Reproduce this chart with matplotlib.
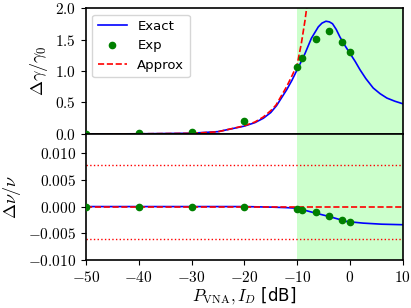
import matplotlib
matplotlib.use('Agg')
import matplotlib.pyplot as plt
from matplotlib.ticker import FuncFormatter

plt.rcParams['mathtext.fontset'] = 'cm'

# measured points (power in dB)
exp_x = [-50, -40, -30, -20, -10, -9, -6.5, -4, -1.5, 0]
exp_gamma = [0.0, 0.01, 0.03, 0.20, 1.06, 1.20, 1.51, 1.63, 1.46, 1.30]
exp_nu = [0.0, 0.0, 0.0, 0.0, -0.0005, -0.0006, -0.0011, -0.0017, -0.0025, -0.0029]

# exact model, linewidth
exact_x = [-50, -40, -30, -25, -20, -18, -16.4, -15, -13.9, -12, -11, -10, -9,
           -8.5, -7.3, -6, -5.3, -4.55, -3.9, -3.3, -2.6, -1.9, -1, 0, 1, 1.9,
           3, 4.4, 5.7, 7, 8.5, 10]
exact_gamma = [0.0, 0.003, 0.012, 0.037, 0.125, 0.18, 0.25, 0.34, 0.45, 0.70,
               0.85, 1.02, 1.19, 1.28, 1.52, 1.70, 1.76, 1.79, 1.78, 1.75,
               1.66, 1.54, 1.41, 1.28, 1.15, 1.02, 0.88, 0.73, 0.64, 0.57,
               0.52, 0.48]

# exact model, frequency shift
exact_nu_x = [-50, -20, -15, -12, -10, -7, -3.8, -0.6, 2.5, 6, 10]
exact_nu = [0.0, 0.0, -0.0001, -0.0002, -0.0003, -0.0011, -0.0019, -0.0028,
            -0.0031, -0.0033, -0.0034]

# approximation
approx_x = [-50, -40, -30, -25, -20, -18, -16.4, -15, -14, -12, -11, -10,
            -9.2, -8.5, -8.2, -8.0]
approx_gamma = [0.0, 0.003, 0.01, 0.035, 0.13, 0.19, 0.27, 0.37, 0.46, 0.75,
                0.92, 1.10, 1.44, 1.81, 2.0, 2.3]
approx_nu_x = [-50, 10]
approx_nu = [0.0, 0.0]

# dotted bounds in the lower panel
bounds_nu = [0.0077, -0.0061]
shade = (-10, 10)

fig, (ax1, ax2) = plt.subplots(2, 1, sharex=True, figsize=(4.11, 3.08), dpi=100)
fig.subplots_adjust(left=0.209, right=0.98, top=0.974, bottom=0.156, hspace=0)

for ax in (ax1, ax2):
    ax.axvspan(*shade, color='lime', alpha=0.2, lw=0)
    for s in ax.spines.values():
        s.set_linewidth(1.2)

ax1.plot(exact_x, exact_gamma, color='blue', lw=1.2, label='Exact')
ax1.plot(exp_x, exp_gamma, 'o', color='green', ms=4.5, label='Exp', zorder=5)
ax1.plot(approx_x, approx_gamma, '--', color='red', lw=1.2, label='Approx')
ax1.set_ylim(0, 2.0)
ax1.set_yticks([0, 0.5, 1.0, 1.5, 2.0])
ax1.yaxis.set_major_formatter(FuncFormatter(lambda v, p: f'${v:.1f}$'))
ax1.set_ylabel(r'$\Delta\gamma/\gamma_0$', fontsize=13)
ax1.legend(loc='upper left', fontsize=9.5, handlelength=2.2)
ax1.tick_params(axis='x', length=0)

ax2.plot(exact_nu_x, exact_nu, color='blue', lw=1.2)
ax2.plot(exp_x, exp_nu, 'o', color='green', ms=4.5, zorder=5)
ax2.plot(approx_nu_x, approx_nu, '--', color='red', lw=1.2)
for b in bounds_nu:
    ax2.axhline(b, color='red', ls=':', lw=1)
ax2.set_ylim(-0.010, 0.0136)
ax2.set_yticks([-0.010, -0.005, 0.0, 0.005, 0.010])
ax2.yaxis.set_major_formatter(FuncFormatter(lambda v, p: f'${v:.3f}$'))
ax2.set_ylabel(r'$\Delta\nu/\nu$', fontsize=13)

ax2.set_xlim(-50, 10)
ax2.set_xticks([-50, -40, -30, -20, -10, 0, 10])
ax2.xaxis.set_major_formatter(FuncFormatter(lambda v, p: f'${v:.0f}$'))
ax2.set_xlabel(r'$P_{\rm VNA}, I_D$ [dB]', fontsize=12, labelpad=0)

for ax in (ax1, ax2):
    ax.tick_params(labelsize=11)

fig.savefig('out.png', dpi=100)
